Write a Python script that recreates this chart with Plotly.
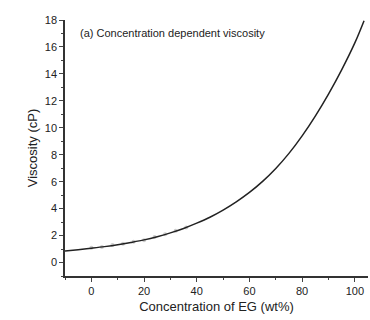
import plotly.graph_objects as go

# Concentration of EG (wt%) and viscosity (cP)
conc = [-10, -5, 0, 5, 10, 15, 20, 25, 30, 35, 40, 45, 50, 55, 60, 65, 70, 75, 80, 85, 90, 95, 100, 103.5]
visc = [0.85, 0.95, 1.06, 1.18, 1.32, 1.49, 1.68, 1.92, 2.2, 2.53, 2.92, 3.36, 3.89, 4.5, 5.2, 6.02, 6.98, 8.1, 9.4, 10.87, 12.5, 14.3, 16.3, 17.95]

# faint measured points around the lower part of the curve
meas_x = [0, 4, 8, 12, 16, 20, 24, 28, 32, 36]
meas_y = [1.1, 1.15, 1.3, 1.4, 1.55, 1.65, 1.9, 2.1, 2.35, 2.6]

x_ticks = [0, 20, 40, 60, 80, 100]
y_ticks = [0, 2, 4, 6, 8, 10, 12, 14, 16, 18]

fig = go.Figure()
fig.add_trace(go.Scatter(x=meas_x, y=meas_y, mode="markers",
                         marker=dict(size=4, color="rgba(170,170,170,0.6)"),
                         showlegend=False, hoverinfo="skip"))
fig.add_trace(go.Scatter(x=conc, y=visc, mode="lines", line=dict(color="#222", width=1.5, shape="spline"),
                         showlegend=False))

W, H = 370, 320
L, R, T, B = 65, 2, 20, 44
font = dict(family="Liberation Sans, Arial, sans-serif", size=11, color="#222")
fig.update_layout(
    width=W, height=H,
    margin=dict(l=L, r=R, t=T, b=B),
    paper_bgcolor="white", plot_bgcolor="white",
    font=font,
    xaxis=dict(range=[-10, 105], tickvals=x_ticks, ticks="outside", ticklen=4, tickwidth=1,
               showline=True, linecolor="#333", linewidth=1.5, showgrid=False, zeroline=False,
               minor=dict(dtick=10, tick0=0, ticks="outside", ticklen=2, tickwidth=1, showgrid=False),
               title=dict(text="Concentration of EG (wt%)", standoff=6)),
    yaxis=dict(range=[-1, 18], tickvals=y_ticks, ticks="outside", ticklen=4, tickwidth=1,
               showline=True, linecolor="#333", linewidth=1.5, showgrid=False, zeroline=False,
               minor=dict(dtick=1, tick0=0, ticks="outside", ticklen=2, tickwidth=1, showgrid=False),
               title=dict(text="Viscosity (cP)", standoff=4)),
    annotations=[dict(text="(a) Concentration dependent viscosity",
                      x=(78 - L) / (W - L - R), y=1 - (33 - T) / (H - T - B),
                      xref="paper", yref="paper",
                      showarrow=False, xanchor="left", yanchor="middle", font=font)],
)
fig.write_html("out.html", config={"displayModeBar": False},
               post_script="document.body.style.margin='0';document.body.style.overflow='hidden';")
